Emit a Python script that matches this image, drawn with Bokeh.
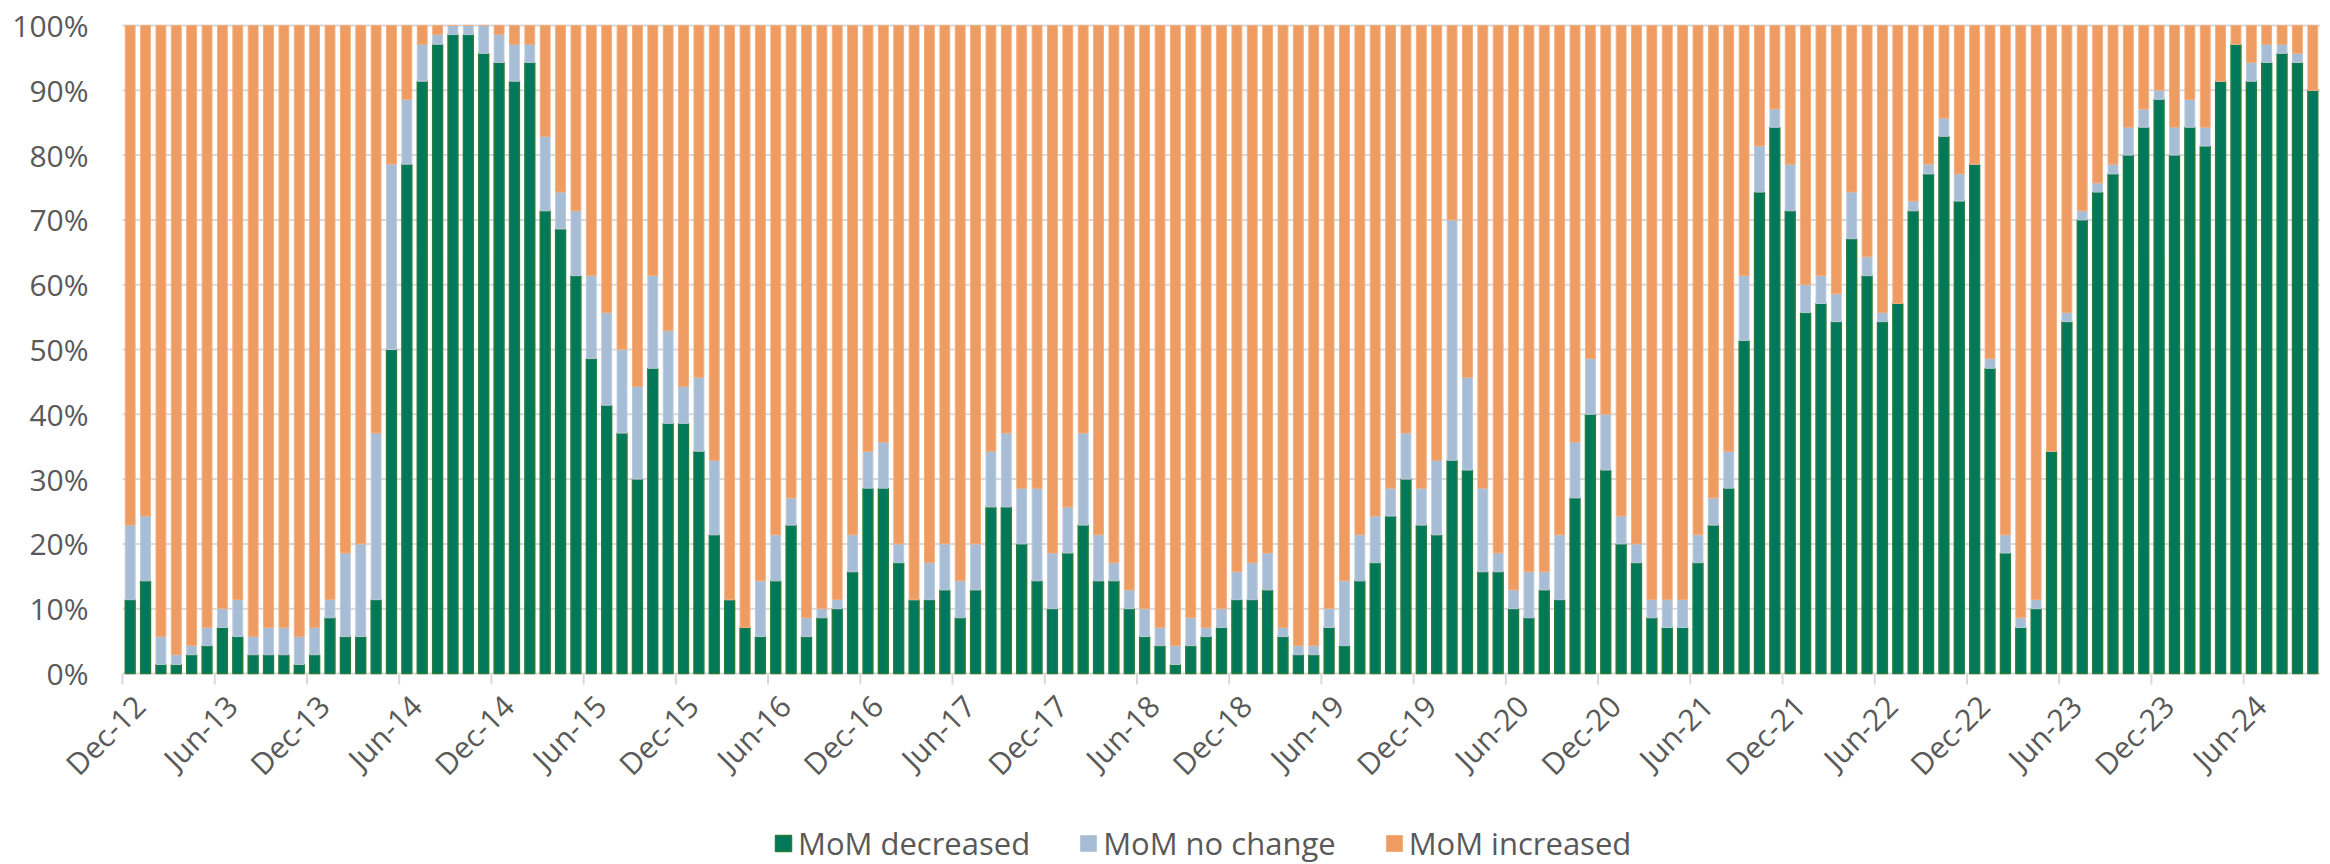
import math
from bokeh.plotting import figure
from bokeh.models import ColumnDataSource, Range1d, Legend, LegendItem
from bokeh.core.properties import value
from bokeh.embed import file_html
from bokeh.resources import INLINE

# Share of items (%) by month-on-month movement, Dec-12 .. Oct-24 (143 months)
decreased = [
    11.4, 14.3, 1.4, 1.4, 2.9, 4.3, 7.1, 5.7, 2.9, 2.9, 2.9, 1.4,
    2.9, 8.6, 5.7, 5.7, 11.4, 50.0, 78.6, 91.4, 97.1, 98.6, 98.6, 95.7,
    94.3, 91.4, 94.3, 71.4, 68.6, 61.4, 48.6, 41.4, 37.1, 30.0, 47.1, 38.6,
    38.6, 34.3, 21.4, 11.4, 7.1, 5.7, 14.3, 22.9, 5.7, 8.6, 10.0, 15.7,
    28.6, 28.6, 17.1, 11.4, 11.4, 12.9, 8.6, 12.9, 25.7, 25.7, 20.0, 14.3,
    10.0, 18.6, 22.9, 14.3, 14.3, 10.0, 5.7, 4.3, 1.4, 4.3, 5.7, 7.1,
    11.4, 11.4, 12.9, 5.7, 2.9, 2.9, 7.1, 4.3, 14.3, 17.1, 24.3, 30.0,
    22.9, 21.4, 32.9, 31.4, 15.7, 15.7, 10.0, 8.6, 12.9, 11.4, 27.1, 40.0,
    31.4, 20.0, 17.1, 8.6, 7.1, 7.1, 17.1, 22.9, 28.6, 51.4, 74.3, 84.3,
    71.4, 55.7, 57.1, 54.3, 67.1, 61.4, 54.3, 57.1, 71.4, 77.1, 82.9, 72.9,
    78.6, 47.1, 18.6, 7.1, 10.0, 34.3, 54.3, 70.0, 74.3, 77.1, 80.0, 84.3,
    88.6, 80.0, 84.3, 81.4, 91.4, 97.1, 91.4, 94.3, 95.7, 94.3, 90.0,
]
no_change = [
    11.5, 10.0, 4.3, 1.5, 1.4, 2.8, 2.9, 5.7, 2.8, 4.2, 4.2, 4.3,
    4.2, 2.8, 12.9, 14.3, 25.7, 28.6, 10.0, 5.7, 1.5, 1.4, 1.4, 4.3,
    4.3, 5.7, 2.8, 11.5, 5.7, 10.0, 12.8, 14.3, 12.9, 14.3, 14.3, 14.3,
    5.7, 11.4, 11.5, 0.0, 0.0, 8.6, 7.1, 4.2, 2.9, 1.4, 1.4, 5.7,
    5.7, 7.1, 2.9, 0.0, 5.7, 7.1, 5.7, 7.1, 8.6, 11.4, 8.6, 14.3,
    8.6, 7.1, 14.2, 7.1, 2.8, 2.9, 4.3, 2.8, 2.9, 4.3, 1.4, 2.9,
    4.3, 5.7, 5.7, 1.4, 1.4, 1.4, 2.9, 10.0, 7.1, 7.2, 4.3, 7.1,
    5.7, 11.5, 37.1, 14.3, 12.9, 2.9, 2.9, 7.1, 2.8, 10.0, 8.6, 8.6,
    8.6, 4.3, 2.9, 2.8, 4.3, 4.3, 4.3, 4.2, 5.7, 10.0, 7.1, 2.8,
    7.2, 4.3, 4.3, 4.3, 7.2, 2.9, 1.4, 0.0, 1.5, 1.5, 2.8, 4.2,
    0.0, 1.5, 2.8, 1.5, 1.4, 0.0, 1.4, 1.4, 1.4, 1.5, 4.3, 2.8,
    1.4, 4.3, 4.3, 2.9, 0.0, 0.0, 2.9, 2.8, 1.4, 1.4, 0.0,
]
increased = [
    77.1, 75.7, 94.3, 97.1, 95.7, 92.9, 90.0, 88.6, 94.3, 92.9, 92.9, 94.3,
    92.9, 88.6, 81.4, 80.0, 62.9, 21.4, 11.4, 2.9, 1.4, 0.0, 0.0, 0.0,
    1.4, 2.9, 2.9, 17.1, 25.7, 28.6, 38.6, 44.3, 50.0, 55.7, 38.6, 47.1,
    55.7, 54.3, 67.1, 88.6, 92.9, 85.7, 78.6, 72.9, 91.4, 90.0, 88.6, 78.6,
    65.7, 64.3, 80.0, 88.6, 82.9, 80.0, 85.7, 80.0, 65.7, 62.9, 71.4, 71.4,
    81.4, 74.3, 62.9, 78.6, 82.9, 87.1, 90.0, 92.9, 95.7, 91.4, 92.9, 90.0,
    84.3, 82.9, 81.4, 92.9, 95.7, 95.7, 90.0, 85.7, 78.6, 75.7, 71.4, 62.9,
    71.4, 67.1, 30.0, 54.3, 71.4, 81.4, 87.1, 84.3, 84.3, 78.6, 64.3, 51.4,
    60.0, 75.7, 80.0, 88.6, 88.6, 88.6, 78.6, 72.9, 65.7, 38.6, 18.6, 12.9,
    21.4, 40.0, 38.6, 41.4, 25.7, 35.7, 44.3, 42.9, 27.1, 21.4, 14.3, 22.9,
    21.4, 51.4, 78.6, 91.4, 88.6, 65.7, 44.3, 28.6, 24.3, 21.4, 15.7, 12.9,
    10.0, 15.7, 11.4, 15.7, 8.6, 2.9, 5.7, 2.9, 2.9, 4.3, 10.0,
]
tick_labels = [
    "Dec-12", "Jun-13", "Dec-13", "Jun-14", "Dec-14", "Jun-15", "Dec-15", "Jun-16",
    "Dec-16", "Jun-17", "Dec-17", "Jun-18", "Dec-18", "Jun-19", "Dec-19", "Jun-20",
    "Dec-20", "Jun-21", "Dec-21", "Jun-22", "Dec-22", "Jun-23", "Dec-23", "Jun-24",
]
y_ticks = [0, 10, 20, 30, 40, 50, 60, 70, 80, 90, 100]
y_tick_labels = ["0%", "10%", "20%", "30%", "40%", "50%", "60%", "70%", "80%", "90%", "100%"]
series_names = ["MoM decreased", "MoM no change", "MoM increased"]

n = len(decreased)
xs = list(range(n))
b1 = decreased
b2 = [a + b for a, b in zip(decreased, no_change)]
b3 = [a + b for a, b in zip(b2, increased)]
src = ColumnDataSource(dict(x=xs, z=[0] * n, b1=b1, b2=b2, b3=b3))

FONT = "Open Sans"
TXT = "#595959"
GRID = "#D9D9D9"

# Layout in pixels: plot area (0%..100%) is 2198 x 648 px, starting 122 px from the left
# and 25 px from the top; the rest of the frame holds the axis labels and the legend.
FRAME_W, FRAME_H = 2320, 864
PLOT_LEFT, PLOT_TOP = 122, 25
PX_PER_CAT = 2198 / n
PX_PER_UNIT = 648 / 100.0
x_lo = -0.5 - PLOT_LEFT / PX_PER_CAT
x_hi = n - 0.5 + (FRAME_W - PLOT_LEFT - 2198) / PX_PER_CAT
y_hi = 100 + PLOT_TOP / PX_PER_UNIT
y_lo = -(FRAME_H - PLOT_TOP - 648) / PX_PER_UNIT

p = figure(frame_width=FRAME_W, frame_height=FRAME_H, output_backend="svg", toolbar_location=None,
           x_range=Range1d(x_lo, x_hi), y_range=Range1d(y_lo, y_hi),
           min_border_left=0, min_border_right=0, min_border_top=0, min_border_bottom=0)
p.outline_line_color = None
p.background_fill_color = "white"
p.border_fill_color = "white"
p.xaxis.visible = False
p.yaxis.visible = False
p.xgrid.visible = False
p.ygrid.visible = False

# horizontal gridlines (0% line doubles as the category axis line)
p.segment(x0=[-0.5] * len(y_ticks), y0=y_ticks, x1=[n - 0.5] * len(y_ticks), y1=y_ticks,
          line_color=GRID, line_width=2)

W = 0.64
r1 = p.vbar(x="x", bottom="z", top="b1", width=W, source=src,
            fill_color="#00795A", line_color="#2A7B3C", line_width=1.5)
r2 = p.vbar(x="x", bottom="b1", top="b2", width=W, source=src,
            fill_color="#A7BDD5", line_color="#B9CADD", line_width=1)
r3 = p.vbar(x="x", bottom="b2", top="b3", width=W, source=src,
            fill_color="#EE9C62", line_color="#F1AE7E", line_width=1)

# y tick labels
ysrc = ColumnDataSource(dict(x=[-0.5] * len(y_ticks), y=y_ticks, t=y_tick_labels))
p.text(x="x", y="y", text="t", source=ysrc, x_offset=-34,
       text_align="right", text_baseline="middle",
       text_font=value(FONT), text_font_size="30px", text_color=TXT)

# category-axis tick marks (between categories, every 6 months) and rotated date labels
label_pos = [6 * i + 0.6 for i in range(len(tick_labels))]
boundaries = [6 * i - 0.5 for i in range(len(tick_labels))]
tick_len = 11 / PX_PER_UNIT
p.segment(x0=boundaries, y0=[0] * len(boundaries), x1=boundaries,
          y1=[-tick_len] * len(boundaries), line_color=GRID, line_width=2)
lab_src = ColumnDataSource(dict(x=label_pos, y=[0] * len(label_pos), t=tick_labels))
p.text(x="x", y="y", text="t", source=lab_src, angle=math.pi / 4,
       text_align="right", text_baseline="middle", y_offset=27,
       text_font=value(FONT), text_font_size="30px", text_color=TXT)

legend = Legend(items=[LegendItem(label=series_names[0], renderers=[r1]),
                       LegendItem(label=series_names[1], renderers=[r2]),
                       LegendItem(label=series_names[2], renderers=[r3])],
                orientation="horizontal", location=(773, 0))
legend.label_text_font = FONT
legend.label_text_font_size = "31px"
legend.label_text_color = TXT
legend.glyph_width = 20
legend.glyph_height = 20
legend.label_standoff = 5
legend.spacing = 48
legend.border_line_color = None
legend.background_fill_alpha = 0
legend.padding = 0
legend.margin = 0
p.add_layout(legend, "center")

open("out.html", "w").write(file_html(p, INLINE))
